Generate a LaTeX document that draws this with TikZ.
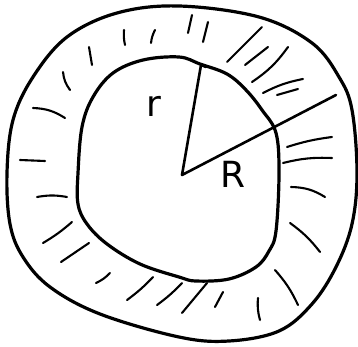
\documentclass[tikz,border=0pt]{standalone}
\usepackage{fontspec}
\newfontfamily\labelfont{DejaVu Sans}
\begin{document}
\begin{tikzpicture}[x=1pt,y=-1pt,
  blob/.style={line width=3.2pt, line join=round},
  hatch/.style={line width=2.1pt, line cap=round},
  radius/.style={line width=2.6pt, line cap=round, line join=round},
  lab/.style={font=\labelfont\fontsize{36}{36}\selectfont, inner sep=0pt}]
\useasboundingbox (0,0) rectangle (358,347);
% outer blob
\draw[blob] plot[smooth cycle, tension=0.6] coordinates {
 (179,6) (259,17) (312,43) (339,77) (352,110) (357,173) (352,224) (336,267)
 (312,304) (279,331) (229,341) (179,337) (100,314) (50,287) (23,257) (10,224)
 (7,173) (13,120) (33,77) (67,37) (117,13)};
% inner blob
\draw[blob] plot[smooth cycle, tension=0.6] coordinates {
 (179,57) (200,64) (227,74) (246,90) (262,110) (276,133) (279,173) (276,231)
 (269,251) (256,267) (229,279) (196,281) (179,277) (140,264) (107,244) (87,224)
 (78,204) (78,173) (82,127) (93,97) (113,73) (143,60)};
% radii
\coordinate (c) at (182,175);
\coordinate (rt) at (201,65);
\coordinate (Rt) at (336,95);
\draw[radius] (c) -- (rt) -- (206,67);
\draw[radius] (c) -- (Rt);
\node[lab] (rlab) at (154,106) {r};
\node[lab] (Rlab) at (233,174) {R};
% hatches
\draw[hatch] (33,108) to[bend left=15] (65,118);
\draw[hatch] (20,160) -- (45,161);
\draw[hatch] (37,197) to[bend left=10] (67,197);
\draw[hatch] (72,222) to[bend left=5] (43,243);
\draw[hatch] (89,243) -- (61,262);
\draw[hatch] (110,273) to[bend left=10] (96,283);
\draw[hatch] (153,277) to[bend left=5] (127,300);
\draw[hatch] (182,283) to[bend left=5] (157,305);
\draw[hatch] (207,283) -- (182,313);
\draw[hatch] (223,292) -- (215,307);
\draw[hatch] (258,298) to[bend right=10] (260,320);
\draw[hatch] (275,270) to[bend left=8] (298,305);
\draw[hatch] (290,223) to[bend left=8] (320,252);
\draw[hatch] (291,187) to[bend left=15] (325,197);
\draw[hatch] (283,163) to[bend left=8] (332,158);
\draw[hatch] (287,147) to[bend left=5] (332,137);
\draw[hatch] (277,95) -- (298,89);
\draw[hatch] (263,93) to[bend left=8] (303,79);
\draw[hatch] (252,82) to[bend right=10] (288,47);
\draw[hatch] (245,65) -- (268,47);
\draw[hatch] (227,62) -- (262,27);
\draw[hatch] (203,42) -- (208,22);
\draw[hatch] (188,33) -- (192,15);
\draw[hatch] (151,43) to[bend left=10] (155,30);
\draw[hatch] (125,45) to[bend left=8] (124,30);
\draw[hatch] (92,65) -- (89,47);
\draw[hatch] (70,90) to[bend left=15] (63,72);
\end{tikzpicture}
\end{document}
